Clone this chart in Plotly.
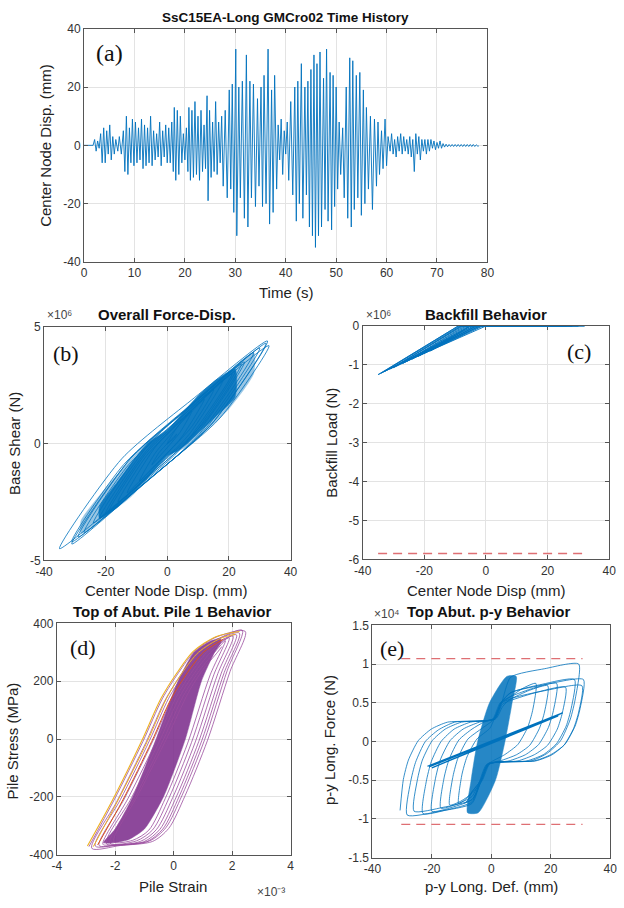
import plotly.graph_objects as go

# ---------------- (a) time history: extrema ----------------
a_time = [0, 1.8, 2.1, 2.4, 2.7, 3.0, 3.3, 3.6, 3.9, 4.2, 4.5, 4.8, 5.1, 5.4, 5.7, 6.0, 6.3, 6.7, 7.0, 7.4,
          7.8, 8.1, 8.4, 8.7, 9.0, 9.3, 9.6, 9.9, 10.2, 10.5, 10.8, 11.1, 11.4, 11.7, 12.0, 12.3, 12.6, 12.9,
          13.2, 13.5, 13.8, 14.1, 14.4, 14.7, 15.0, 15.3, 15.6, 15.9, 16.2, 16.5, 16.8, 17.1, 17.4, 17.7,
          17.9, 18.2, 18.5, 18.8, 19.1, 19.4, 19.7, 20.0, 20.3, 20.6, 20.8, 21.1, 21.4, 21.7, 22.0, 22.3,
          22.6, 22.9, 23.2, 23.5, 23.8, 24.1, 24.4, 24.6, 24.9, 25.2, 25.5, 25.8, 26.1, 26.4, 26.7, 27.0,
          27.3, 27.6, 28.0, 28.4, 28.8, 29.1, 29.4, 29.7, 30.1, 30.3, 30.7, 31.0, 31.4, 31.8, 32.2, 32.5,
          32.9, 33.2, 33.6, 34.0, 34.4, 34.7, 35.1, 35.4, 35.7, 36.1, 36.5, 36.8, 37.2, 37.5, 37.8, 38.2,
          38.5, 38.8, 39.1, 39.4, 39.7, 40.0, 40.3, 40.6, 41.0, 41.4, 41.8, 42.1, 42.4, 42.7, 43.1, 43.4,
          43.8, 44.1, 44.4, 44.7, 45.0, 45.3, 45.6, 45.9, 46.2, 46.5, 46.8, 47.1, 47.5, 47.8, 48.1, 48.4,
          48.8, 49.1, 49.4, 49.7, 50.0, 50.3, 50.6, 50.9, 51.3, 51.6, 52.0, 52.3, 52.7, 53.0, 53.3, 53.6,
          54.0, 54.3, 54.7, 55.0, 55.4, 55.7, 56.0, 56.4, 56.8, 57.2, 57.6, 58.0, 58.3, 58.6, 59.0, 59.3,
          59.7, 60.0, 60.3, 60.7, 61.0, 61.3, 61.6, 61.9, 62.2, 62.5, 62.8, 63.1, 63.4, 63.7, 64.0, 64.3,
          64.6, 64.9, 65.2, 65.5, 65.8, 66.1, 66.4, 66.7, 67.0, 67.3, 67.6, 67.9, 68.2, 68.5, 68.8, 69.1,
          69.4, 69.7, 70.0, 70.3, 70.6, 70.9, 71.2, 71.5, 71.8, 72.1, 72.4, 72.7, 73.0, 73.3, 73.6, 73.9,
          74.2, 74.5, 74.8, 75.1, 75.4, 75.7, 76.0, 76.3, 76.6, 76.9, 77.2, 77.5, 77.8, 78.1, 78.3]
a_disp = [0, 0, 2, -2, 1.5, -1, 4, -6, 6, -6, 5, -3, 7, -5, 3, -3, 2, -2, 3, -3,
          5, -9, 10, -10, 6, -6, 9, -7, 8, -6, 6, -5, 9, -8, 7, -7, 6, -6,
          10, -7, 5, -5, 4, -4, 8, -7, 5, -4, 7, -6, 6, -6, 8, -9,
          13, -12, 12, -10, 10, -6, 4, -5, 6, -9, 13, -12, 12, -11, 15, -10,
          10, -12, 12, -9, 7, -8, 17, -19, 12, -11, 8, -9, 15, -10, 8, -6,
          10, -14, 12, -18, 19, -15, 21, -23, 33, -31, 20, -18, 22, -25, 31, -28,
          22, -18, 21, -21, 16, -14, 20, -21, 24, -20, 33, -27, 19, -23, 24, -15,
          7, -5, 9, -10, 5, -3, 8, -12, 15, -17, 20, -26, 22, -20, 28, -25,
          20, -17, 22, -28, 26, -31, 31, -35, 28, -31, 32, -28, 23, -22, 33, -26,
          25, -29, 24, -21, 20, -15, 8, -10, 6, -18, 20, -25, 30, -28, 29, -22,
          24, -18, 25, -24, 19, -20, 13, -15, 10, -22, 9, -14, 8, -10, 5, -8,
          9, -7, 3, -2, 4, -3, 2, -4, 3, -2, 4, -3, 3, -2, 2, -3,
          3, -4, 2, -9, 4, -3, 3, -5, 2, -2, 2, -3, 2, -2, 2, -1,
          1.5, -1.5, 1, -1, 1.5, -1, 0.6, -0.6, 0.4, -0.5, 0.3, -0.4, 0.3, -0.4, 0.3, -0.4,
          0.3, -0.4, 0.3, -0.4, 0.3, -0.4, 0.3, -0.4, 0.3, -0.4, 0.3, -0.4, 0.2, -0.3, -0.2]
a_xticks = [0, 10, 20, 30, 40, 50, 60, 70, 80]
a_yticks = [-40, -20, 0, 20, 40]

# ---------------- (b) overall force-displacement (force in 1e6 N) ----------------
b_disp = [0, 3.6, 7.8, 12, 4.5, -4.25, -13, -3.7, 7.15, 18, 6.9, -6.05, -19, -6.7, 7.65, 22,
          8.2, -7.9, -24, -7.8, 11.1, 30, 11.7, -9.65, -31, -14.2, 5.4, 25, 10.9, -5.55, -22,
          -5.8, 13.1, 32, 14.3, -6.35, -27, -12.6, 4.2, 21, 4.2, -15.4, -35, -14.75, 8.9, 32.5,
          14.05, -7.5, -29, -11.9, 8.05, 28, 10.3, -10.35, -31, -11.8, 10.6, 33, 17.1, -1.45, -20,
          -6.8, 8.6, 24, 12, -2, -16, -6.7, 4.15, 15, 7.8, -0.6, -9, -3.9, 2.05, 8, 4.1, -0.45, -5,
          -2.6, 0.2, 3, 2.1, 1.05, 0]
b_shear = [0, 0.78, 1.36, 1.9, 0.26, -0.96, -2.1, -0.11, 1.34, 2.7, 0.37, -1.32, -2.9, -0.38, 1.42, 3.1,
           0.34, -1.6, -3.4, -0.2, 2.03, 4.1, 0.53, -1.93, -4.2, -0.9, 1.39, 3.5, 0.66, -1.34, -3.2,
           0.0, 2.24, 4.3, 0.83, -1.58, -3.8, -0.91, 1.11, 3.0, -0.24, -2.46, -4.5, -0.64, 1.98, 4.4,
           0.79, -1.69, -4.0, -0.62, 1.72, 3.9, 0.4, -2.04, -4.3, -0.62, 1.89, 4.2, 1.1, -1.03, -3.0,
           -0.3, 1.61, 3.4, 0.92, -0.85, -2.5, -0.51, 0.94, 2.3, 0.71, -0.49, -1.6, -0.4, 0.53, 1.4, 0.48, -0.23, -0.9,
           -0.37, 0.03, 0.4, 0.22, 0.1, 0]
b_outer_disp = [-28, -20, -12, -6, 0, 6, 12, 20, 28, 28, 20, 12, 6, 0, -6, -12, -20, -28, -28]
b_outer_shear = [-3.3, -1.9, -0.7, 0.15, 0.6, 1.5, 2.3, 3.1, 3.9, 3.0, 1.5, 0.5, -0.15, -0.55, -1.45, -2.3, -3.1, -3.85, -3.3]
b_core_disp = [-22, -16, -10, -6, -3, 0, 3, 6, 10, 16, 22, 22, 16, 10, 6, 3, 0, -3, -6, -10, -16, -22, -22]
b_core_shear = [-2.7, -1.6, -0.55, 0.05, 0.32, 0.58, 1.0, 1.45, 2.05, 2.75, 3.2, 2.0, 1.2, 0.45, -0.05,
                -0.32, -0.52, -0.95, -1.4, -1.95, -2.7, -3.2, -2.7]
b_xticks = [-40, -20, 0, 20, 40]
b_yticks = [-5, 0, 5]

# ---------------- (c) backfill behaviour (load in 1e6 N) ----------------
c_disp = [0, -20, -5, 18, -2, -27, -7, 25, -3, -31, -8, 30, -4, -35, -9, 32, -5, -29, -7.5, 28,
          -3, -33, -8.5, 20, -2, -24, -6, 15, -1, -22, -5.5, 10, -4, -26, -6.5, 12, -1.5, -30, -8,
          22, -3.5, -18, -5, 5, -2.5, -34, -9, 26, 0]
c_load = [0, -0.70, 0, 0, 0, -0.96, 0, 0, 0, -1.1, 0, 0, 0, -1.25, 0, 0, 0, -1.02, 0, 0,
          0, -1.17, 0, 0, 0, -0.85, 0, 0, 0, -0.78, 0, 0, 0, -0.92, 0, 0, 0, -1.07, 0,
          0, 0, -0.64, 0, 0, 0, -1.21, 0, 0, 0]
c_ult_disp = [-35, 32]
c_ult_load = [-5.85, -5.85]
c_yticks = [-6, -5, -4, -3, -2, -1, 0]

# ---------------- (d) pile stress-strain (strain in 1e-3) ----------------
d_strain = [-2.9, -2.04, -1.05, -0.39, 0.17, 0.72, 1.49, 2.45,
            1.93, 1.16, 0.39, -0.17, -0.72, -1.82, -2.8,
            -1.94, -0.95, -0.29, 0.27, 0.82, 1.59, 2.35,
            1.83, 1.06, 0.29, -0.27, -0.82, -1.92, -2.68,
            -1.82, -0.83, -0.17, 0.39, 0.94, 1.71, 2.25,
            1.73, 0.96, 0.19, -0.37, -0.92, -2.02, -2.55,
            -1.69, -0.7, -0.04, 0.52, 1.07, 1.84, 2.15,
            1.63, 0.86, 0.09, -0.47, -1.02, -2.12, -2.42,
            -1.56, -0.57, 0.09, 0.65, 1.2, 2.03,
            1.51, 0.74, -0.03, -0.59, -1.14, -2.3,
            -1.44, -0.45, 0.21, 0.77, 1.32, 1.9,
            1.38, 0.61, -0.16, -0.72, -1.27, -2.18,
            -1.32, -0.33, 0.33, 0.89, 1.44, 1.77,
            1.25, 0.48, -0.29, -0.85, -1.4, -2.05,
            -1.2, -0.2, 0.5, 1.0, 1.5, 1.65]
d_stress = [-372, -211, -8, 139, 230, 303, 354, 372,
            234, -4, -196, -309, -354, -368, -378,
            -215, -12, 135, 226, 299, 350, 376,
            236, -2, -194, -307, -352, -366, -370,
            -209, -6, 141, 232, 305, 354, 366,
            230, -6, -198, -311, -355, -368, -368,
            -207, -4, 143, 234, 306, 352, 360,
            228, -8, -200, -312, -355, -366, -364,
            -205, -2, 145, 236, 306, 356,
            226, -10, -202, -313, -354, -362,
            -203, 0, 147, 237, 306, 350,
            224, -12, -204, -314, -352, -360,
            -201, 2, 149, 238, 305, 340,
            222, -14, -206, -315, -350, -355,
            -190, 10, 160, 240, 300, 320]
d_yellow1_strain = [-2.95, -2.09, -1.1, -0.44, 0.12, 0.67, 1.44, 2.25]
d_yellow1_stress = [-370, -211, -8, 139, 230, 303, 354, 372]
d_yellow2_strain = [-2.75, -1.9, -0.9, -0.25, 0.3, 0.85, 1.6, 2.1]
d_yellow2_stress = [-372, -211, -8, 139, 230, 300, 348, 362]
d_orange_strain = [-2.6, -1.74, -0.75, -0.09, 0.47, 1.02, 1.7]
d_orange_stress = [-366, -211, -8, 139, 230, 300, 345]
d_core_strain = [-2.4, -2.0, -1.4, -0.6, 0.15, 0.7, 1.25, 1.6, 1.62, 1.4, 0.95, 0.4, -0.35, -1.0, -1.55, -2.2, -2.4]
d_core_stress = [-358, -311, -200, 0, 200, 300, 338, 348, 335, 300, 200, 0, -200, -311, -348, -360, -358]
d_xticks = [-4, -2, 0, 2, 4]
d_yticks = [-400, -200, 0, 200, 400]

# ---------------- (e) p-y spring (force in 1e4 N) ----------------
e_def = [-30.7, -29.6, -27.9, -24.6, -20.2, -14.7, 1.0, 3.5, 6.5, 18.0, 29.4,
         28.3, 26.6, 23.3, 18.9, 13.4, -1.0, -3.5, -6.5, -17.4, -28.3,
         -27.2, -25.5, -22.2, -17.8, -12.3, 0.6, 3.2, 6.5, 18.75, 31.0,
         29.9, 28.2, 24.9, 20.5, 15.0, -0.6, -3.2, -6.5, -16.25, -26.0,
         -24.9, -23.2, -19.9, -15.5, -10.0, 1.4, 3.8, 6.5, 18.5, 30.5,
         29.4, 27.7, 24.4, 20.0, 14.5, -1.4, -3.8, -6.5, -14.75, -23.0,
         -21.9, -20.2, -16.9, -12.5, -7.0, 0.8, 3.3, 6.5, 17.25, 28.0,
         26.9, 25.2, 21.9, 17.5, 12.0, -0.8, -3.3, -6.5, -13.25, -20.0,
         -18.9, -17.2, -13.9, -9.5, -4.0, 1.2, 3.7, 6.5, 15.75, 25.0,
         23.9, 22.2, 18.9, 14.5, 9.0, -1.2, -3.7, -6.5, -11.75, -17.0,
         -15.9, -14.2, -10.9, -6.5, -2.5, 0.5, 3.0, 6.5, 14.25, 22.0,
         20.9, 19.2, 15.9, 11.5, 6.0, -0.5, -3.0, -6.5, -10.25, -14.0,
         -12.9, -11.2, -7.9, -3.5, 1.0, 3.5, 6.5, 12.75, 19.0,
         17.9, 16.2, 12.9, 8.5, 3.0, -1.0, -3.5, -6.5, -8.75, -11.0,
         -9.9, -8.2, -4.9, -0.5, 1.0, 3.5, 6.5, 10.75, 15.0,
         13.9, 12.2, 8.9, 4.5, -1.0, -3.5, -6.5, -7.75, -9.0]
e_force = [-0.89, -0.49, -0.24, 0.01, 0.16, 0.25, 0.29, 0.5, 0.83, 0.94, 1.0,
           0.56, 0.29, 0.01, -0.15, -0.25, -0.29, -0.5, -0.8, -0.9, -0.95,
           -0.53, -0.27, 0.0, 0.15, 0.25, 0.29, 0.5, 0.63, 0.74, 0.8,
           0.43, 0.2, -0.03, -0.17, -0.25, -0.29, -0.5, -0.75, -0.85, -0.9,
           -0.5, -0.24, 0.01, 0.16, 0.25, 0.29, 0.45, 0.55, 0.66, 0.72,
           0.38, 0.17, -0.05, -0.17, -0.25, -0.29, -0.5, -0.78, -0.88, -0.93,
           -0.52, -0.26, 0.0, 0.16, 0.25, 0.29, 0.5, 0.63, 0.74, 0.8,
           0.43, 0.2, -0.03, -0.17, -0.25, -0.29, -0.5, -0.75, -0.85, -0.9,
           -0.5, -0.24, 0.01, 0.16, 0.25, 0.29, 0.48, 0.53, 0.64, 0.7,
           0.37, 0.16, -0.05, -0.17, -0.25, -0.29, -0.5, -0.71, -0.81, -0.86,
           -0.47, -0.23, 0.02, 0.16, 0.25, 0.29, 0.5, 0.58, 0.69, 0.75,
           0.4, 0.18, -0.04, -0.17, -0.25, -0.29, -0.5, -0.67, -0.77, -0.82,
           -0.45, -0.21, 0.03, 0.16, 0.29, 0.5, 0.55, 0.66, 0.72,
           0.38, 0.17, -0.05, -0.17, -0.25, -0.29, -0.5, -0.65, -0.75, -0.8,
           -0.43, -0.2, 0.03, 0.17, 0.29, 0.5, 0.58, 0.69, 0.75,
           0.4, 0.18, -0.04, -0.17, -0.29, -0.5, -0.65, -0.75, -0.8]
e_xline_def = [-21, 23, -20.5, 22.5, -20, 24, -21.5]
e_xline_force = [-0.33, 0.35, -0.31, 0.33, -0.34, 0.37, -0.32]
e_core_def = [-8.0, -6.8, -4.6, -0.6, 5.2, 8.4, 7.0, 4.6, 1.4, -4.4, -8.0]
e_core_force = [-0.92, -0.5, 0.0, 0.5, 0.84, 0.84, 0.5, 0.0, -0.5, -0.92, -0.92]
e_cap_def = [-30.3, 30.7]
e_cap_pos = [1.07, 1.07]
e_cap_neg = [-1.07, -1.07]
e_yticks = [-1.5, -1, -0.5, 0, 0.5, 1, 1.5]
e_yticklabels = ["-1.5", "-1", "-0.5", "0", "0.5", "1", "1.5"]

# ---------------- styling ----------------
W, H = 624, 908
BLUE = "#0072BD"
PURPLE = "#7E2F8E"
RED = "#DE6F73"
SANS = "Liberation Sans, Arial, Helvetica, sans-serif"
SERIF = "Liberation Serif, Times New Roman, serif"


def px_x(p):
    return p / W


def px_y(p):
    return 1 - p / H


def lab(vals):
    return [("-" + str(abs(v))) if v < 0 else str(v) for v in vals]


def axis(dom, rng, vals, text=None, anchor=None):
    return dict(domain=dom, range=rng, tickvals=vals, ticktext=text if text else lab(vals),
                showline=True, mirror="ticks", linecolor="#555555", linewidth=1,
                ticks="inside", ticklen=4, tickcolor="#555555",
                showgrid=True, gridcolor="#e3e3e3", gridwidth=1, zeroline=False,
                tickfont=dict(family=SANS, size=12, color="#333333"),
                anchor=anchor, fixedrange=True)


fig = go.Figure()


def line(x, y, ax, color, width=0.8, dash=None, shape="linear", smoothing=1.0):
    ln = dict(color=color, width=width, dash=dash, shape=shape)
    if shape == "spline":
        ln["smoothing"] = smoothing
    fig.add_trace(go.Scatter(x=x, y=y, mode="lines", xaxis="x" + ax, yaxis="y" + ax,
                             line=ln, hoverinfo="skip", showlegend=False))


def fill(x, y, ax, color, opacity=0.9):
    fig.add_trace(go.Scatter(x=x, y=y, mode="lines", fill="toself", fillcolor=color, opacity=opacity,
                             xaxis="x" + ax, yaxis="y" + ax,
                             line=dict(color=color, width=0.5, shape="spline", smoothing=0.6),
                             hoverinfo="skip", showlegend=False))


# (a)
line(a_time, a_disp, "", BLUE, 0.9)
# (b)
fill(b_outer_disp, b_outer_shear, "2", BLUE, 0.4)
fill(b_core_disp, b_core_shear, "2", BLUE, 0.88)
line(b_disp, b_shear, "2", BLUE, 0.8, shape="spline", smoothing=0.7)
# (c)
line(c_disp, c_load, "3", BLUE, 0.9)
line(c_ult_disp, c_ult_load, "3", RED, 1.4, dash="9px,6px")
# (d)
fill(d_core_strain, d_core_stress, "4", PURPLE, 0.88)
line(d_strain, d_stress, "4", "#9A4C9E", 0.8, shape="spline", smoothing=0.8)
line(d_orange_strain, d_orange_stress, "4", "#D95319", 1.0, shape="spline", smoothing=0.8)
line(d_yellow2_strain, d_yellow2_stress, "4", "#EDB120", 1.0, shape="spline", smoothing=0.8)
line(d_yellow1_strain, d_yellow1_stress, "4", "#EDB120", 1.1, shape="spline", smoothing=0.8)
# (e)
fill(e_core_def, e_core_force, "5", BLUE, 0.85)
line(e_def, e_force, "5", BLUE, 0.8, shape="spline", smoothing=0.6)
line(e_xline_def, e_xline_force, "5", BLUE, 1.2)
line(e_cap_def, e_cap_pos, "5", RED, 1.4, dash="9px,6px")
line(e_cap_def, e_cap_neg, "5", RED, 1.4, dash="9px,6px")

layout = dict(width=W, height=H, margin=dict(l=0, r=0, t=0, b=0), autosize=False,
              paper_bgcolor="white", plot_bgcolor="white", showlegend=False, hovermode=False)
layout["xaxis"] = axis([px_x(77), px_x(491)], [0, 80], a_xticks, anchor="y")
layout["yaxis"] = axis([px_y(259), px_y(22)], [-40, 40], a_yticks, anchor="x")
layout["xaxis2"] = axis([px_x(36), px_x(289)], [-40, 40], b_xticks, anchor="y2")
layout["yaxis2"] = axis([px_y(562), px_y(325)], [-5, 5], b_yticks, anchor="x2")
layout["xaxis3"] = axis([px_x(363), px_x(616)], [-40, 40], b_xticks, anchor="y3")
layout["yaxis3"] = axis([px_y(561), px_y(324)], [-6, 0], c_yticks, anchor="x3")
layout["xaxis4"] = axis([px_x(49), px_x(289)], [-4, 4], d_xticks, anchor="y4")
layout["yaxis4"] = axis([px_y(861), px_y(626)], [-400, 400], d_yticks, anchor="x4")
layout["xaxis5"] = axis([px_x(373), px_x(617)], [-40, 40], b_xticks, anchor="y5")
layout["yaxis5"] = axis([px_y(864), px_y(628)], [-1.5, 1.5], e_yticks, e_yticklabels, anchor="x5")
layout["xaxis3"]["layer"] = "below traces"
layout["yaxis3"]["layer"] = "below traces"
fig.update_layout(**layout)

ann = []


def text(t, x, y, size=15, bold=False, angle=0, xanchor="center", family=SANS, color="#222222"):
    ann.append(dict(text=("<b>%s</b>" % t) if bold else t, x=px_x(x), y=px_y(y), xref="paper", yref="paper",
                    showarrow=False, xanchor=xanchor, yanchor="middle", textangle=angle,
                    font=dict(family=family, size=size, color=color)))


# titles
text("SsC15EA-Long GMCro02 Time History", 284, 11, 13.5, True, color="#111111")
text("Overall Force-Disp.", 162, 312, 15, True, color="#111111")
text("Backfill Behavior", 490, 312, 15, True, color="#111111")
text("Top of Abut. Pile 1 Behavior", 168, 614, 15, True, color="#111111")
text("Top Abut. p-y Behavior", 492, 614, 15, True, color="#111111")
# axis titles
text("Time (s)", 284, 290, 15)
text("Center Node Disp. (mm)", 38, 141, 15, angle=-90)
text("Center Node Disp. (mm)", 162, 593, 15)
text("Base Shear (N)", 5, 443, 15, angle=-90)
text("Center Node Disp (mm)", 490, 593, 15)
text("Backfill Load (N)", 331, 443, 15, angle=-90)
text("Pile Strain", 168, 893, 15)
text("Pile Stress (MPa)", 4, 745, 15, angle=-90)
text("p-y Long. Def. (mm)", 495, 893, 15)
text("p-y Long. Force (N)", 329, 745, 15, angle=-90)
# exponent labels
text("\u00d710\u2076", 37, 313, 12, xanchor="left", color="#444444")
text("\u00d710\u2076", 364, 313, 12, xanchor="left", color="#444444")
text("\u00d710\u207b\u00b3", 252, 899, 12, xanchor="left", color="#444444")
text("\u00d710\u2074", 373, 616, 12, xanchor="left", color="#444444")
# panel labels
text("(a)", 103, 47, 24, family=SERIF, color="#111111")
text("(b)", 58, 352, 22, family=SERIF, color="#111111")
text("(c)", 585, 350, 22, family=SERIF, color="#111111")
text("(d)", 76, 651, 22, family=SERIF, color="#111111")
text("(e)", 393, 652, 22, family=SERIF, color="#111111")

fig.update_layout(annotations=ann)
fig.write_html("out.html")
